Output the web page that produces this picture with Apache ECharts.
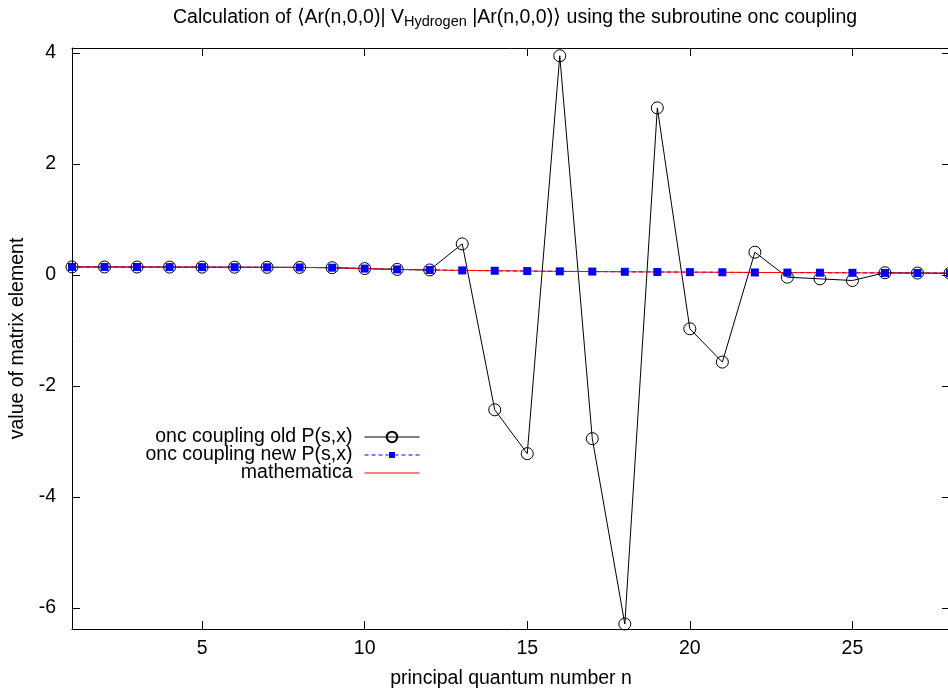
<!DOCTYPE html>
<html>
<head>
<meta charset="utf-8">
<script src="https://cdn.jsdelivr.net/npm/echarts@6/dist/echarts.min.js"></script>
<style>
html,body{margin:0;padding:0;background:#fff;}
#chart{width:948px;height:691px;}
</style>
</head>
<body>
<div id="chart"></div>
<script>
// ---- data ----
var nValues = [1,2,3,4,5,6,7,8,9,10,11,12,13,14,15,16,17,18,19,20,21,22,23,24,25,26,27,28];
var oldValues = [0.145,0.144,0.143,0.142,0.141,0.140,0.138,0.136,0.131,0.115,0.100,0.090,0.56,-2.43,-3.22,3.95,-2.95,-6.29,3.01,-0.97,-1.57,0.41,-0.04,-0.07,-0.10,0.04,0.035,0.03];
var newValues = [0.145,0.144,0.143,0.142,0.141,0.140,0.138,0.136,0.131,0.115,0.100,0.090,0.082,0.076,0.070,0.065,0.061,0.057,0.054,0.051,0.048,0.045,0.043,0.041,0.039,0.037,0.035,0.033];
var mathValues = [0.145,0.144,0.143,0.142,0.141,0.140,0.138,0.136,0.131,0.115,0.100,0.090,0.082,0.076,0.070,0.065,0.061,0.057,0.054,0.051,0.048,0.045,0.043,0.041,0.039,0.037,0.035,0.033];
var xTicks = [5,10,15,20,25];
var yTicks = [-6,-4,-2,0,2,4];
var seriesNames = ['onc coupling old P(s,x)','onc coupling new P(s,x)','mathematica'];

function pairs(xs, ys){ return xs.map(function(x,i){ return [x, ys[i]]; }); }

// legend sample for the dashed series: dashed line with a small square in the middle
var dashedSquareIcon = 'path://M0,0M55,13' +
  'M0,6h4v1h-4z M7,6h4v1h-4z M14,6h4v1h-4z M21,6h3v1h-3z' +
  'M24.5,3.5h6v6h-6z' +
  'M31,6h3v1h-3z M37,6h4v1h-4z M44,6h4v1h-4z M51,6h4v1h-4z';

var FONT = 'Liberation Sans, Arial, Helvetica, sans-serif';
var FS = 19.5;
var chart = echarts.init(document.getElementById('chart'), null, {renderer:'canvas'});
var option = {
  animation: false,
  backgroundColor: '#ffffff',
  textStyle: {fontFamily: FONT},
  title: {
    left: 168, top: 2,
    text: '{a|Calculation of \u27E8Ar(n,0,0)| V}{s|Hydrogen}{a| |Ar(n,0,0)\u27E9 using the subroutine onc coupling}',
    textStyle: {
      fontWeight: 'normal',
      rich: {
        a: {fontSize: FS, fontWeight: 'normal', fontFamily: FONT, color: '#000', lineHeight: 22, verticalAlign: 'middle'},
        s: {fontSize: 14.5, fontWeight: 'normal', fontFamily: FONT, color: '#000', lineHeight: 8, verticalAlign: 'bottom'}
      }
    }
  },
  legend: {
    orient: 'vertical',
    right: 523, top: 422,
    align: 'right',
    itemWidth: 55, itemHeight: 13, itemGap: -2,
    lineStyle: {width: 1},
    textStyle: {fontSize: FS, color: '#000', fontFamily: FONT, padding: [0, 7, 0, 0]},
    data: [
      {name: seriesNames[0]},
      {name: seriesNames[1], icon: dashedSquareIcon, itemStyle: {color: '#0000ff', borderWidth: 0}},
      {name: seriesNames[2], itemStyle: {color: 'rgba(0,0,0,0)', borderWidth: 0}}
    ]
  },
  grid: {left: 72, right: -2, top: 48, bottom: 62, containLabel: false, outerBoundsMode: 'none'},
  xAxis: [{
    type: 'value', position: 'bottom', min: 1, max: 28,
    name: 'principal quantum number n', nameLocation: 'middle', nameGap: 40,
    nameTextStyle: {fontSize: FS, color: '#000', fontFamily: FONT},
    axisLine: {show: true, onZero: false, lineStyle: {color: '#000', width: 1}},
    axisTick: {show: true, inside: true, length: 8, customValues: xTicks, lineStyle: {color: '#000'}},
    axisLabel: {show: true, customValues: xTicks, fontSize: FS, color: '#000', margin: 10, fontFamily: FONT},
    splitLine: {show: false}
  },{
    type: 'value', position: 'top', min: 1, max: 28,
    axisLine: {show: true, onZero: false, lineStyle: {color: '#000', width: 1}},
    axisTick: {show: true, inside: true, length: 8, customValues: xTicks, lineStyle: {color: '#000'}},
    axisLabel: {show: false},
    splitLine: {show: false}
  }],
  yAxis: [{
    type: 'value', position: 'left', min: -6.38, max: 4.09,
    name: 'value of matrix element', nameLocation: 'middle', nameGap: 44, nameRotate: 90,
    nameTextStyle: {fontSize: FS, color: '#000', fontFamily: FONT},
    axisLine: {show: true, onZero: false, lineStyle: {color: '#000', width: 1}},
    axisTick: {show: true, inside: true, length: 8, customValues: yTicks, lineStyle: {color: '#000'}},
    axisLabel: {show: true, customValues: yTicks, fontSize: FS, color: '#000', margin: 16, fontFamily: FONT},
    splitLine: {show: false}
  },{
    type: 'value', position: 'right', min: -6.38, max: 4.09,
    axisLine: {show: true, onZero: false, lineStyle: {color: '#000', width: 1}},
    axisTick: {show: true, inside: true, length: 8, customValues: yTicks, lineStyle: {color: '#000'}},
    axisLabel: {show: false},
    splitLine: {show: false}
  }],
  series: [{
    name: seriesNames[0], type: 'line', xAxisIndex: 0, yAxisIndex: 0,
    data: pairs(nValues, oldValues),
    symbol: 'circle', symbolSize: 12, showAllSymbol: true,
    lineStyle: {color: '#000', width: 1},
    itemStyle: {color: 'rgba(0,0,0,0)', borderColor: '#000', borderWidth: 1},
    emphasis: {disabled: true}
  },{
    name: seriesNames[1], type: 'line', xAxisIndex: 0, yAxisIndex: 0,
    data: pairs(nValues, newValues),
    symbol: 'rect', symbolSize: 8, showAllSymbol: true,
    lineStyle: {color: '#0000ff', width: 1, type: [4, 3]},
    itemStyle: {color: '#0000ff', borderWidth: 0},
    emphasis: {disabled: true}
  },{
    name: seriesNames[2], type: 'line', xAxisIndex: 0, yAxisIndex: 0,
    data: pairs(nValues, mathValues),
    symbol: 'none', showSymbol: false,
    lineStyle: {color: '#ff0000', width: 1},
    itemStyle: {color: '#ff0000'},
    emphasis: {disabled: true}
  }]
};
chart.setOption(option);
</script>
</body>
</html>
